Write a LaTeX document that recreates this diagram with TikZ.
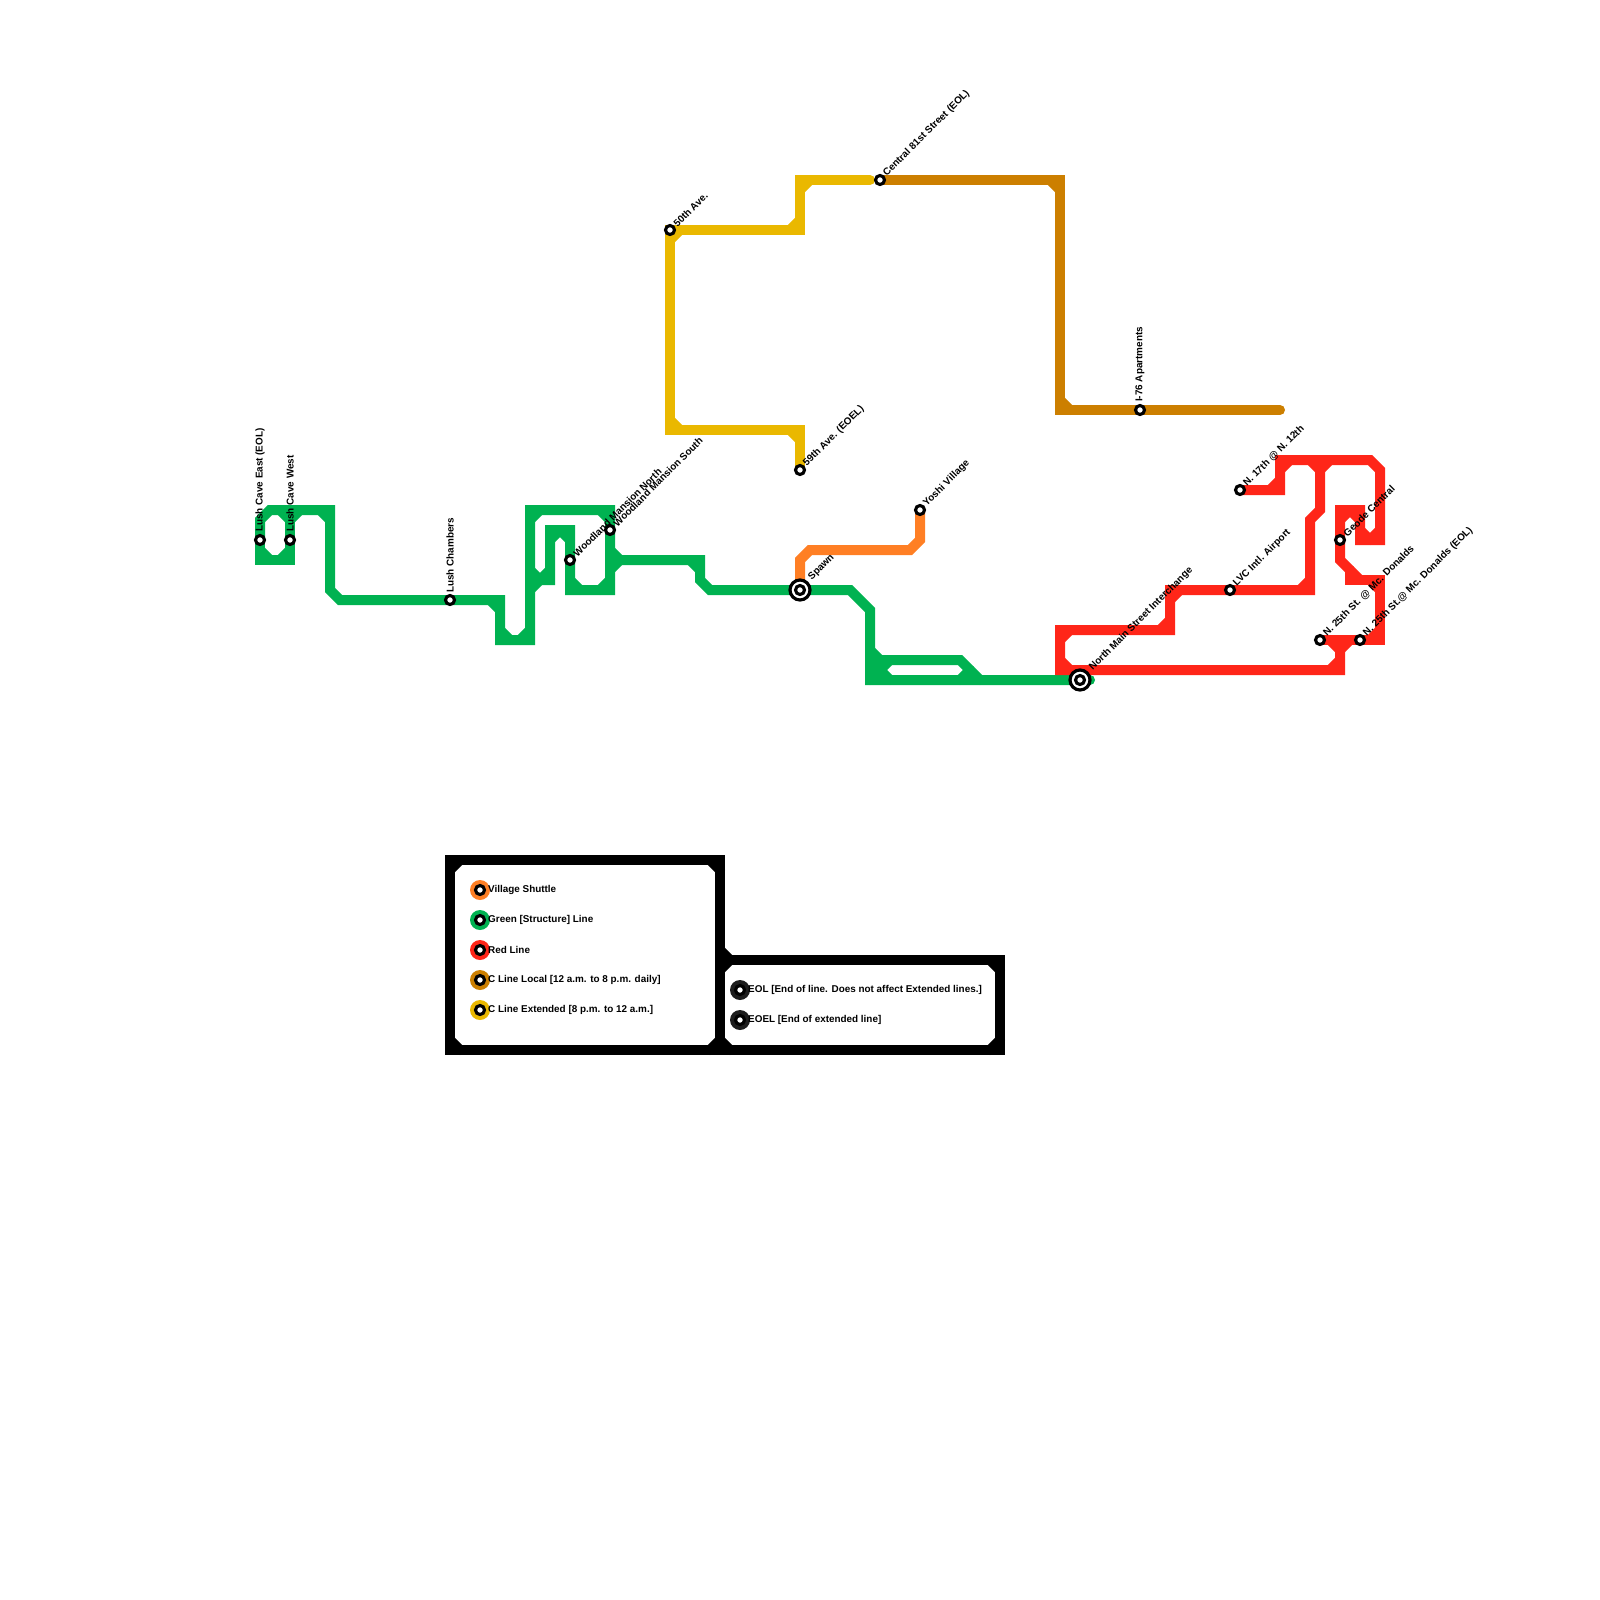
\documentclass[tikz,border=0pt]{standalone}
\usepackage{fontspec}
\setmainfont{Liberation Sans}
\usepackage{tikz}
\usetikzlibrary{positioning}
\definecolor{greenline}{HTML}{00B251}
\definecolor{redline}{HTML}{FF2619}
\definecolor{orangeline}{HTML}{FF7F24}
\definecolor{localline}{HTML}{CC7F00}
\definecolor{extline}{HTML}{EAB800}
\definecolor{eolgray}{HTML}{1C1C1C}
\newcommand{\fillets}[2]{\foreach \cx/\cy/\sx/\sy in {#2} \draw[track,#1] ({\cx+10*\sx},\cy) -- (\cx,{\cy+10*\sy});}

\begin{document}
\begin{tikzpicture}[x=1pt,y=-1pt,
  track/.style={line width=10pt,line cap=round,line join=miter},
  stn/.style={circle,draw=black,line width=3.1pt,fill=white,inner sep=0pt,minimum size=9pt},
  hub/.style={circle,draw=black,line width=3.2pt,fill=white,inner sep=0pt,minimum size=20pt},
  lbl/.style={font=\bfseries\fontsize{9.9}{12}\selectfont,inner sep=0pt,anchor=west},
  upr/.style={lbl,rotate=45},
  upv/.style={lbl,rotate=90},
  disk/.style={circle,inner sep=0pt,minimum size=20pt}]
\useasboundingbox (0,0) rectangle (1600,1600);

\coordinate (lce) at (260,540);
\coordinate (lcw) at (290,540);
\coordinate (lch) at (450,600);
\coordinate (wmn) at (570,560);
\coordinate (wms) at (610,530);
\coordinate (spw) at (800,590);
\coordinate (nms) at (1080,680);
\coordinate (yos) at (920,510);
\coordinate (c81) at (880,180);
\coordinate (a50) at (670,230);
\coordinate (a59) at (800,470);
\coordinate (i76) at (1140,410);
\coordinate (n17) at (1240,490);
\coordinate (lvc) at (1230,590);
\coordinate (geo) at (1340,540);
\coordinate (n25) at (1320,640);
\coordinate (n2e) at (1360,640);

\draw[track,greenline] (lce) -- (260,520) -- (270,510) -- (330,510) -- (330,590) -- (340,600) -- (lch) -- (500,600) -- (500,640) -- (530,640) -- (530,510) -- (610,510) -- (610,590) -- (570,590) -- (wmn) -- (570,530) -- (550,530) -- (550,580) -- (530,580);
\draw[track,greenline] (lce) -- (260,560) -- (290,560) -- (290,510);
\draw[track,greenline] (610,560) -- (700,560) -- (700,580) -- (710,590) -- (spw) -- (850,590) -- (870,610) -- (870,680) -- (1090,680);
\draw[track,greenline] (870,650) -- (880,660) -- (960,660) -- (980,680);
\draw[track,greenline] (870,680) -- (890,660);
\draw[track,greenline] (870,660) -- (890,680);
\draw[track,greenline] (960,680) -- (970,670);
\fillets{greenline}{290/510/-1/1,290/510/1/1,330/510/-1/1,260/560/1/-1,290/560/-1/-1,500/600/-1/1,500/640/1/-1,530/640/-1/-1,530/510/1/1,530/580/1/-1,530/580/1/1,550/580/-1/-1,550/530/1/1,570/530/-1/1,570/590/1/-1,610/590/-1/-1,610/510/-1/1,610/560/1/1,610/560/1/-1,700/560/-1/1}

\draw[track,orangeline] (spw) -- (800,560) -- (810,550) -- (910,550) -- (920,540) -- (yos);

\draw[track,extline] (a59) -- (800,430) -- (670,430) -- (a50) -- (800,230) -- (800,180) -- (870,180);
\fillets{extline}{670/230/1/1,800/230/-1/-1,800/180/1/1,670/430/1/-1,800/430/-1/1}

\draw[track,localline] (c81) -- (1060,180) -- (1060,410) -- (i76) -- (1280,410);
\fillets{localline}{1060/180/-1/1,1060/410/1/-1}

\draw[track,redline] (n17) -- (1280,490) -- (1280,460) -- (1370,460) -- (1380,470) -- (1380,540) -- (1360,540) -- (1360,510) -- (1340,510) -- (geo) -- (1340,560) -- (1360,580);
\draw[track,redline] (1320,460) -- (1320,510) -- (1310,520) -- (1310,590) -- (lvc) -- (1170,590) -- (1170,630) -- (1060,630) -- (1060,670) -- (1340,670) -- (1340,640);
\draw[track,redline] (n25) -- (n2e) -- (1380,640) -- (1380,580) -- (1350,580) -- (1350,570);
\fillets{redline}{1060/630/1/1,1060/670/1/-1,1170/630/-1/-1,1170/590/1/1,1310/590/-1/-1,1320/460/-1/1,1320/460/1/1,1280/460/1/1,1280/490/-1/-1,1340/510/1/1,1360/510/-1/1,1360/540/1/-1,1380/540/-1/-1,1380/580/-1/1,1380/640/-1/-1,1340/670/-1/-1,1340/640/-1/1,1340/640/1/1}

\draw[track,black] (450,1040) -- (450,860) -- (720,860) -- (720,1050) -- (1000,1050) -- (1000,960) -- (720,960);
\draw[track,black] (720,1050) -- (450,1050) -- (450,1040);
\fillets{black}{450/860/1/1,720/860/-1/1,450/1050/1/-1,720/1050/-1/-1,720/1050/1/-1,1000/960/-1/1,1000/1050/-1/-1,720/960/1/1,720/960/1/-1}

\node[stn] (lcen) at (lce) {};
\node[stn] (lcwn) at (lcw) {};
\node[stn] (lchn) at (lch) {};
\node[stn] (wmnn) at (wmn) {};
\node[stn] (wmsn) at (wms) {};
\node[hub] (spwn) at (spw) {};
\node[stn] (spwc) at (spw) {};
\node[hub] (nmsn) at (nms) {};
\node[stn] (nmsc) at (nms) {};
\node[stn] (yosn) at (yos) {};
\node[stn] (c81n) at (c81) {};
\node[stn] (a50n) at (a50) {};
\node[stn] (a59n) at (a59) {};
\node[stn] (i76n) at (i76) {};
\node[stn] (n17n) at (n17) {};
\node[stn] (lvcn) at (lvc) {};
\node[stn] (geon) at (geo) {};
\node[stn] (n25n) at (n25) {};
\node[stn] (n2en) at (n2e) {};

\node[upv] (lcet) at (260,532) {Lush Cave East (EOL)};
\node[upv] (lcwt) at (290,532) {Lush Cave West};
\node[upv] (lcht) at (450,593) {Lush Chambers};
\node[upr] (wmnt) at (575,555) {Woodland Mansion North};
\node[upr] (wmst) at (615,525) {Woodland Mansion South};
\node[upr] (spwt) at (810,579) {Spawn};
\node[upr] (nmst) at (1091,669) {North Main Street Interchange};
\node[upr] (yost) at (925,505) {Yoshi Village};
\node[upr] (c81t) at (885,175) {Central 81st Street (EOL)};
\node[upr] (a50t) at (675,225) {50th Ave.};
\node[upr] (a59t) at (805,465) {59th Ave. (EOEL)};
\node[upv] (i76t) at (1140,402) {I-76 Apartments};
\node[upr] (n17t) at (1245,485) {N. 17th @ N. 12th};
\node[upr] (lvct) at (1235,585) {LVC Intl. Airport};
\node[upr] (geot) at (1345,535) {Geode Central};
\node[upr] (n25t) at (1325,635) {N. 25th St. @ Mc. Donalds};
\node[upr] (n2et) at (1365,635) {N. 25th St.@ Mc. Donalds (EOL)};

\foreach \k/\y/\c/\t in {vs/890/orangeline/Village Shuttle,gl/920/greenline/Green [Structure] Line,rl/950/redline/Red Line,cl/980/localline/C Line Local [12 a.m. to 8 p.m. daily],ce/1010/extline/C Line Extended [8 p.m. to 12 a.m.]}{
  \node[disk,fill=\c] (d\k) at (480,\y) {};
  \node[stn] (s\k) at (480,\y) {};
  \node[lbl] (t\k) at (488,\y) {\t};
}
\foreach \k/\y/\t in {eo/990/EOL [End of line. Does not affect Extended lines.],ee/1020/EOEL [End of extended line]}{
  \node[disk,fill=eolgray] (d\k) at (740,\y) {};
  \node[stn] (s\k) at (740,\y) {};
  \node[lbl] (t\k) at (748,\y) {\t};
}
\end{tikzpicture}
\end{document}
